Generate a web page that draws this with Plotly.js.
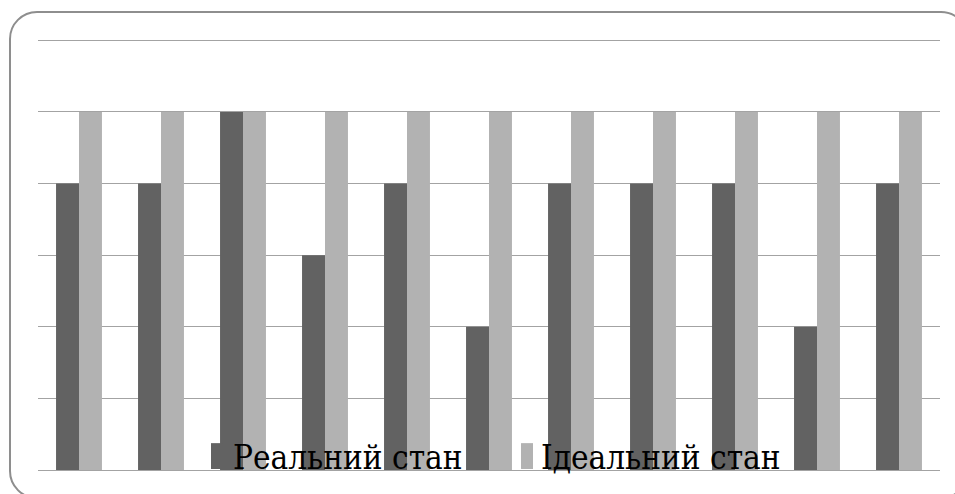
<!DOCTYPE html>
<html>
<head>
<meta charset="utf-8">
<script src="https://cdn.plot.ly/plotly-3.0.1.min.js"></script>
<style>
  html, body { margin: 0; padding: 0; background: #ffffff; }
  #wrap { position: relative; width: 955px; height: 494px; overflow: hidden; }
  #frame {
    position: absolute; left: 9px; top: 11px; width: 960px; height: 488px;
    border: 2px solid #8e8e8e; border-radius: 28px; box-sizing: border-box;
  }
  #chart { position: absolute; left: 0; top: 0; width: 955px; height: 494px; }
</style>
</head>
<body>
<div id="wrap">
  <div id="frame"></div>
  <div id="chart"></div>
</div>
<script>
// Eleven groups, each comparing the real state with the ideal one
const categories = ['1', '2', '3', '4', '5', '6', '7', '8', '9', '10', '11'];
const realValues = [4, 4, 5, 3, 4, 2, 4, 4, 4, 2, 4];
const idealValues = [5, 5, 5, 5, 5, 5, 5, 5, 5, 5, 5];
const seriesNames = ['Реальний стан', 'Ідеальний стан'];
const seriesColors = ['#626262', '#b2b2b2'];

const traces = [
  { type: 'bar', x: categories, y: realValues, name: seriesNames[0],
    marker: { color: seriesColors[0] }, hoverinfo: 'skip' },
  { type: 'bar', x: categories, y: idealValues, name: seriesNames[1],
    marker: { color: seriesColors[1] }, hoverinfo: 'skip' }
];

// Legend drawn inside the plot area along the bottom: tall swatch + serif label
const legendFont = { family: 'DejaVu Serif Condensed', size: 33, color: '#000000' };
const legendItems = [
  { sx0: 0.1918, sx1: 0.2050, tx: 0.2140 },
  { sx0: 0.5355, sx1: 0.5488, tx: 0.5555 }
];
const shapes = legendItems.map((it, i) => ({
  type: 'rect', xref: 'paper', yref: 'paper', layer: 'above',
  x0: it.sx0, x1: it.sx1, y0: 0.0023, y1: 0.0605,
  fillcolor: seriesColors[i], line: { width: 0 }
}));
const annotations = legendItems.map((it, i) => ({
  xref: 'paper', yref: 'paper', x: it.tx, y: -0.021,
  xanchor: 'left', yanchor: 'bottom', showarrow: false,
  text: seriesNames[i], font: legendFont
}));

const layout = {
  width: 955, height: 494,
  margin: { l: 38, r: 15, t: 26, b: 24 },
  paper_bgcolor: 'rgba(0,0,0,0)',
  plot_bgcolor: 'rgba(0,0,0,0)',
  barmode: 'group', bargap: 0.44, bargroupgap: 0,
  showlegend: false,
  xaxis: { showticklabels: false, showgrid: false, zeroline: false, ticks: '', fixedrange: true },
  yaxis: { range: [0, 6.2], dtick: 1, showticklabels: false, ticks: '',
           showgrid: true, gridcolor: '#a3a3a3', gridwidth: 1,
           zeroline: true, zerolinecolor: '#a3a3a3', zerolinewidth: 1, fixedrange: true },
  shapes: shapes,
  annotations: annotations
};

Plotly.newPlot('chart', traces, layout, { staticPlot: true, displayModeBar: false });
</script>
</body>
</html>
